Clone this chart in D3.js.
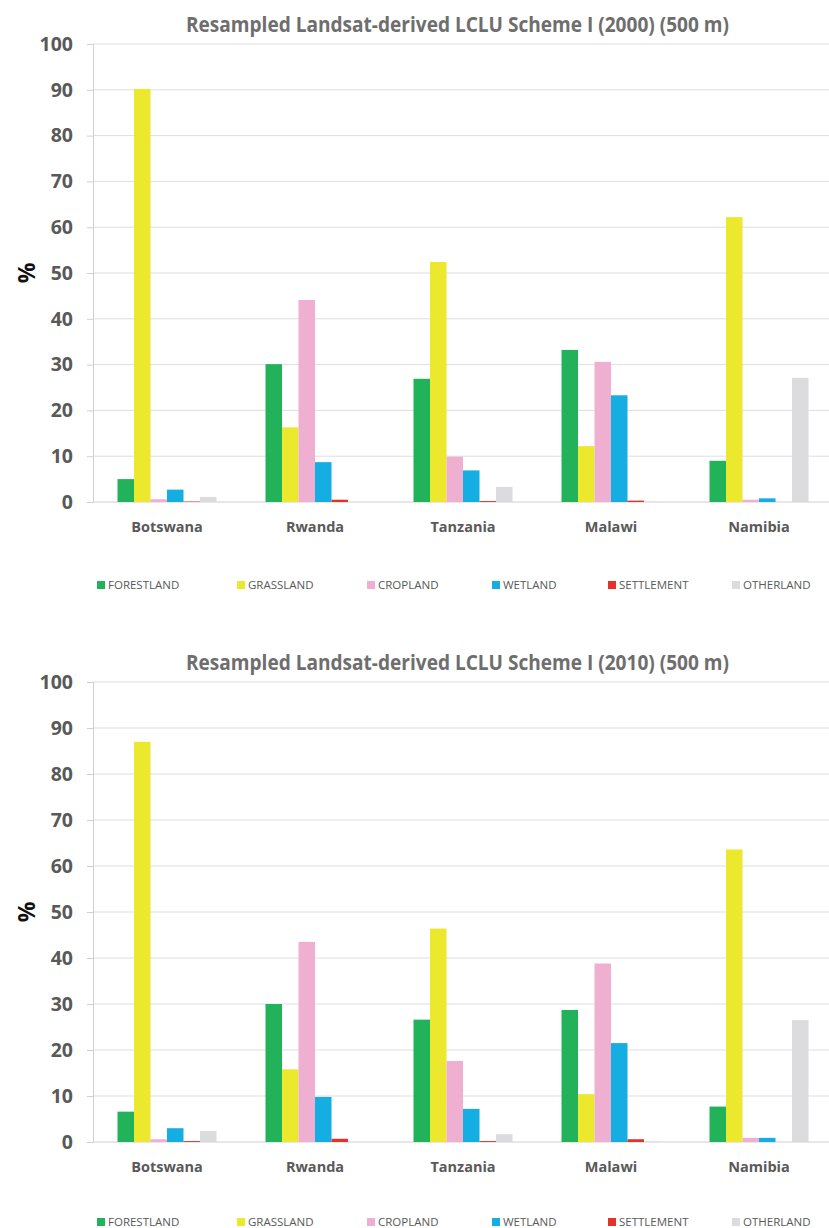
<!DOCTYPE html>
<html>
<head>
<meta charset="utf-8">
<script src="https://cdn.jsdelivr.net/npm/d3@7"></script>
<style>
  html, body { margin: 0; padding: 0; background: #fff; }
  svg { display: block; font-family: "Open Sans", "Noto Sans", sans-serif; }
</style>
</head>
<body>
<svg id="chart" width="829" height="1228"></svg>
<script>
// Countries along the x axis
const countries = ["Botswana", "Rwanda", "Tanzania", "Malawi", "Namibia"];

// Land-cover classes (legend order)
const classes = ["FORESTLAND", "GRASSLAND", "CROPLAND", "WETLAND", "SETTLEMENT", "OTHERLAND"];
const classColors = ["#21b25a", "#ece82e", "#efafd1", "#15aee3", "#e6302a", "#dcdcde"];

// Percent cover per class, 2000 (values in country order)
const forest2000     = [5.0, 30.1, 26.9, 33.2, 9.0];
const grass2000      = [90.2, 16.3, 52.4, 12.2, 62.2];
const crop2000       = [0.6, 44.1, 9.9, 30.6, 0.5];
const wetland2000    = [2.7, 8.7, 6.9, 23.3, 0.8];
const settlement2000 = [0.1, 0.5, 0.2, 0.3, 0.0];
const other2000      = [1.1, 0.0, 3.3, 0.05, 27.1];

// Percent cover per class, 2010
const forest2010     = [6.6, 30.0, 26.6, 28.7, 7.7];
const grass2010      = [87.0, 15.8, 46.4, 10.4, 63.6];
const crop2010       = [0.6, 43.5, 17.6, 38.8, 0.9];
const wetland2010    = [3.0, 9.8, 7.2, 21.5, 0.9];
const settlement2010 = [0.2, 0.7, 0.2, 0.6, 0.0];
const other2010      = [2.4, 0.0, 1.7, 0.1, 26.5];

// Y axis ticks
const yTicks = [0, 10, 20, 30, 40, 50, 60, 70, 80, 90, 100];

const titles = [
  "Resampled Landsat-derived LCLU Scheme I (2000) (500 m)",
  "Resampled Landsat-derived LCLU Scheme I (2010) (500 m)"
];

const panels = [
  { title: titles[0], series: [forest2000, grass2000, crop2000, wetland2000, settlement2000, other2000], top: 44, bottom: 502, legendY: 589 },
  { title: titles[1], series: [forest2010, grass2010, crop2010, wetland2010, settlement2010, other2010], top: 682, bottom: 1142, legendY: 1226 }
];

const svg = d3.select("#chart");
const left = 93, right = 833, gridRight = 829;
const legendX = [97, 237, 367, 492, 608, 732];

function drawPanel(p) {
  const g = svg.append("g");

  const x = d3.scaleBand().domain(countries).range([left, right]).padding(0);
  const groupW = 99;
  const xInner = d3.scaleBand().domain(classes)
    .range([(x.bandwidth() - groupW) / 2, (x.bandwidth() + groupW) / 2]).padding(0);
  const y = d3.scaleLinear().domain([0, 100]).range([p.bottom, p.top]);

  // Title
  g.append("text")
    .attr("x", 186).attr("y", p.top - 12.5)
    .attr("font-size", 22).attr("font-weight", 700)
    .attr("fill", "#6e6e6e")
    .attr("textLength", 543).attr("lengthAdjust", "spacingAndGlyphs")
    .text(p.title);

  // Gridlines
  g.append("g").selectAll("line").data(yTicks.filter(t => t > 0)).join("line")
    .attr("x1", left).attr("x2", gridRight)
    .attr("y1", d => y(d)).attr("y2", d => y(d))
    .attr("stroke", "#dedede").attr("stroke-width", 1);

  // Y axis
  const yAxis = d3.axisLeft(y).tickValues(yTicks).tickSize(6).tickPadding(14);
  const ya = g.append("g").attr("transform", `translate(${left},0)`).call(yAxis);
  ya.select(".domain").attr("stroke", "#d0d0d0");
  ya.selectAll(".tick line").attr("stroke", "#d0d0d0");
  ya.selectAll(".tick text")
    .attr("font-size", 19.5).attr("font-weight", 700).attr("fill", "#595959")
    .attr("font-family", "\"Open Sans\", sans-serif");

  // Baseline
  g.append("line")
    .attr("x1", left).attr("x2", gridRight)
    .attr("y1", y(0)).attr("y2", y(0))
    .attr("stroke", "#d0d0d0");

  // Y axis title
  const midY = (p.top + p.bottom) / 2;
  g.append("text")
    .attr("transform", `translate(35,${midY}) rotate(-90)`)
    .attr("text-anchor", "middle")
    .attr("font-size", 23).attr("font-weight", 700).attr("fill", "#111")
    .text("%");

  // Bars
  const groups = g.append("g").selectAll("g").data(countries).join("g")
    .attr("transform", d => `translate(${x(d)},0)`);
  groups.selectAll("rect")
    .data((c, ci) => classes.map((k, ki) => ({ k, ki, v: p.series[ki][ci] })))
    .join("rect")
    .attr("x", d => xInner(d.k))
    .attr("width", xInner.bandwidth())
    .attr("y", d => y(d.v))
    .attr("height", d => y(0) - y(d.v))
    .attr("fill", d => classColors[d.ki]);

  // Category labels
  g.append("g").selectAll("text").data(countries).join("text")
    .attr("x", d => x(d) + x.bandwidth() / 2)
    .attr("y", p.bottom + 30)
    .attr("text-anchor", "middle")
    .attr("font-size", 14.5).attr("font-weight", 700).attr("fill", "#595959")
    .text(d => d);

  // Legend
  const leg = g.append("g").selectAll("g").data(classes).join("g")
    .attr("transform", (d, i) => `translate(${legendX[i]},${p.legendY})`);
  leg.append("rect").attr("x", 0).attr("y", -8).attr("width", 8).attr("height", 8)
    .attr("fill", (d, i) => classColors[i]);
  leg.append("text").attr("x", 11).attr("y", 0)
    .attr("font-size", 11.5).attr("fill", "#595959")
    .text(d => d);
}

panels.forEach(drawPanel);
</script>
</body>
</html>
